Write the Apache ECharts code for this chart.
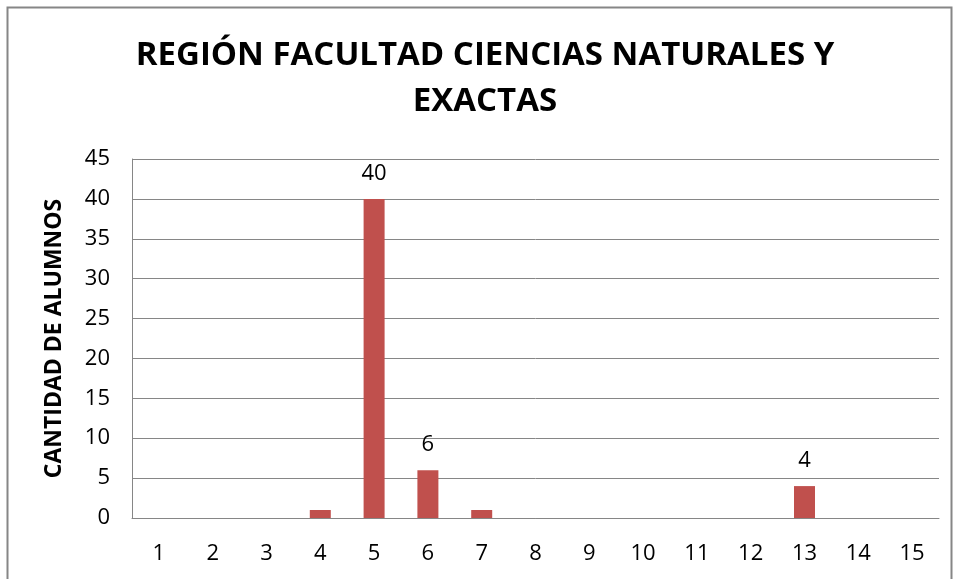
<!DOCTYPE html>
<html>
<head>
<meta charset="utf-8">
<script src="https://cdn.jsdelivr.net/npm/echarts@6/dist/echarts.min.js"></script>
<style>
  html, body { margin: 0; padding: 0; background: #fff; }
  #main { width: 955px; height: 579px; }
</style>
</head>
<body>
<div id="main"></div>
<script>
var categories = ['1', '2', '3', '4', '5', '6', '7', '8', '9', '10', '11', '12', '13', '14', '15'];
var alumnos = [0, 0, 0, 1, 40, 6, 1, 0, 0, 0, 0, 0, 4, 0, 0];
var labelled = [5, 6, 13]; // categorías con etiqueta de valor

var chart = echarts.init(document.getElementById('main'));
var font = 'Open Sans, Liberation Sans, sans-serif';

var option = {
    backgroundColor: '#ffffff',
    animation: false,
    title: {
        text: 'REGIÓN FACULTAD CIENCIAS NATURALES Y\nEXACTAS',
        left: 480,
        textAlign: 'center',
        top: 28,
        textStyle: {
            fontFamily: font,
            fontSize: 33,
            fontWeight: 'bold',
            color: '#000',
            lineHeight: 46
        }
    },
    graphic: [{
        type: 'rect',
        shape: { x: 7.5, y: 7.5, width: 944, height: 600 },
        style: { fill: 'none', stroke: '#868686', lineWidth: 2 },
        silent: true
    }],
    grid: {
        left: 132,
        right: 16,
        top: 159,
        bottom: 61
    },
    xAxis: {
        type: 'category',
        data: categories,
        axisTick: { show: false },
        axisLine: { lineStyle: { color: '#868686' } },
        axisLabel: {
            color: '#000',
            fontFamily: font,
            fontSize: 22,
            margin: 25
        }
    },
    yAxis: {
        type: 'value',
        min: 0,
        max: 45,
        interval: 5,
        name: 'CANTIDAD DE ALUMNOS',
        nameLocation: 'middle',
        nameGap: 66,
        nameTextStyle: {
            fontFamily: font,
            fontSize: 23,
            fontWeight: 'bold',
            color: '#000'
        },
        axisLine: { show: true, lineStyle: { color: '#868686' } },
        axisTick: { show: false },
        splitLine: { lineStyle: { color: '#868686' } },
        axisLabel: {
            color: '#000',
            fontFamily: font,
            fontSize: 22,
            margin: 22
        }
    },
    series: [{
        type: 'bar',
        data: alumnos.map(function (v, i) {
            return {
                value: v,
                label: { show: labelled.indexOf(i + 1) >= 0 }
            };
        }),
        barWidth: 21,
        itemStyle: { color: '#C0504D' },
        label: {
            position: 'top',
            distance: 14,
            color: '#000',
            fontFamily: font,
            fontSize: 22
        }
    }]
};

chart.setOption(option);
</script>
</body>
</html>
